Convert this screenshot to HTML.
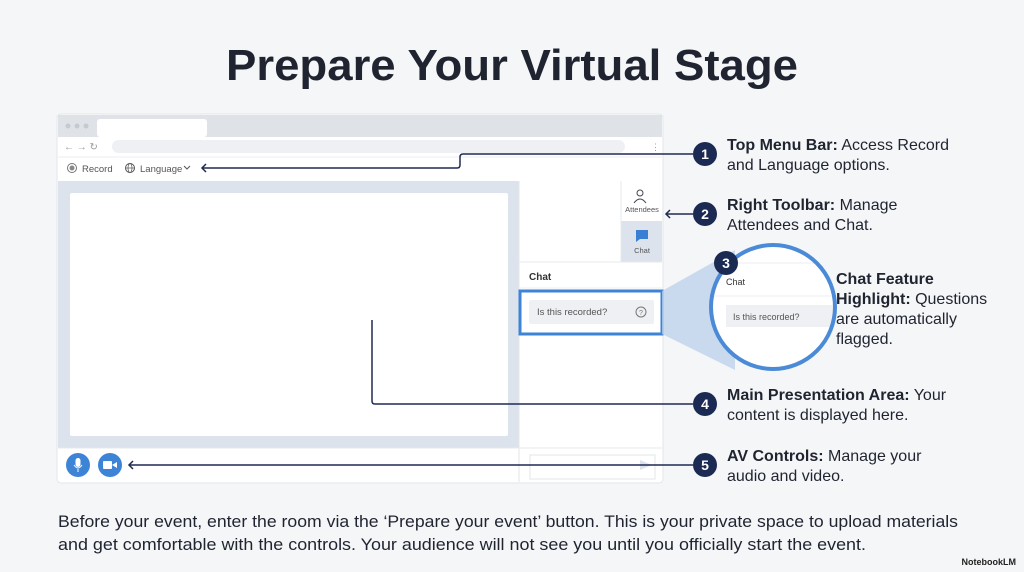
<!DOCTYPE html>
<html><head><meta charset="utf-8"><style>
html,body{margin:0;padding:0;background:#f5f6f8;}
svg{display:block;font-family:"Liberation Sans",sans-serif;}
</style></head><body>
<svg width="1024" height="572" viewBox="0 0 1024 572" xmlns="http://www.w3.org/2000/svg">
<defs><clipPath id="mag"><circle cx="773" cy="307" r="61"/></clipPath></defs>
<rect width="1024" height="572" fill="#f5f6f8"/>
<text x="512" y="80" text-anchor="middle" font-size="44" font-weight="bold" fill="#1f2430" textLength="572" lengthAdjust="spacingAndGlyphs">Prepare Your Virtual Stage</text>

<rect x="57" y="114" width="606" height="369" rx="4" fill="#ffffff" stroke="#e3e6ea"/>
<rect x="58" y="115" width="604" height="22" fill="#dfe3e8"/>
<rect x="97" y="119" width="110" height="18" rx="3" fill="#ffffff"/>
<circle cx="68" cy="126" r="2.5" fill="#c5cad2"/><circle cx="77" cy="126" r="2.5" fill="#c5cad2"/><circle cx="86" cy="126" r="2.5" fill="#c5cad2"/>
<rect x="112" y="140" width="513" height="13" rx="6.5" fill="#eef0f3"/>
<text x="64" y="150" font-size="10" fill="#999">← → ↻</text>
<text x="651" y="150" font-size="9" fill="#999">⋮</text>
<line x1="58" y1="157" x2="662" y2="157" stroke="#eceef1"/>
<circle cx="72" cy="168" r="4.5" fill="none" stroke="#777" stroke-width="1"/><circle cx="72" cy="168" r="2.5" fill="#888"/>
<text x="82" y="172" font-size="9.5" fill="#555">Record</text>
<circle cx="130" cy="168" r="4.5" fill="none" stroke="#555"/><line x1="125.5" y1="168" x2="134.5" y2="168" stroke="#555" stroke-width="0.7"/><ellipse cx="130" cy="168" rx="2" ry="4.5" fill="none" stroke="#555" stroke-width="0.7"/>
<text x="140" y="172" font-size="9.5" fill="#555">Language</text>
<path d="M184 166 l3 3 l3 -3" fill="none" stroke="#555"/>

<rect x="58" y="181" width="461" height="267" fill="#dde3ec"/>
<rect x="70" y="193" width="438" height="243" rx="2" fill="#ffffff"/>
<line x1="519" y1="181" x2="519" y2="482" stroke="#e3e6ea"/>
<rect x="621" y="221" width="41" height="41" fill="#dde3ec"/>
<line x1="621" y1="181" x2="621" y2="262" stroke="#e6e9ed"/>
<line x1="519" y1="262" x2="662" y2="262" stroke="#e6e9ed"/>
<circle cx="640" cy="193" r="3" fill="none" stroke="#445"/><path d="M634 203 q6 -8 12 0" fill="none" stroke="#445"/>
<text x="642" y="212" font-size="7.5" fill="#555" text-anchor="middle">Attendees</text>
<path d="M636 230 h12 v9 h-8 l-4 3 z" fill="#3b7fd4"/>
<text x="642" y="253" font-size="7.5" fill="#555" text-anchor="middle">Chat</text>
<text x="529" y="280" font-size="10" font-weight="bold" fill="#333">Chat</text>
<line x1="519" y1="288" x2="662" y2="288" stroke="#eceef1"/>
<rect x="529" y="300" width="125" height="24" rx="2" fill="#eef0f3"/>
<text x="537" y="315" font-size="9.5" fill="#555">Is this recorded?</text>
<circle cx="641" cy="312" r="5" fill="none" stroke="#777"/><text x="641" y="315" font-size="7" fill="#777" text-anchor="middle">?</text>
<rect x="520" y="291" width="142" height="43" fill="none" stroke="#3d83d6" stroke-width="3"/>
<line x1="58" y1="448" x2="662" y2="448" stroke="#e6e9ed"/>
<rect x="530" y="455" width="125" height="24" fill="#fff" stroke="#e3e6ea"/>
<path d="M640 460 l12 5 l-12 5 z" fill="#dde3ec"/>
<circle cx="78" cy="465" r="12" fill="#3d83d6"/><rect x="75.5" y="458" width="5" height="9" rx="2.5" fill="#fff"/><path d="M74 465 q4 6 8 0 M78 469 v3" fill="none" stroke="#fff"/>
<circle cx="110" cy="465" r="12" fill="#3d83d6"/><rect x="103" y="461" width="9" height="8" rx="1" fill="#fff"/><path d="M112 465 l5 -3 v6 z" fill="#fff"/>

<path d="M662 291 L735 250 L735 370 L662 334 Z" fill="#b9d0ec" opacity="0.75"/>
<circle cx="773" cy="307" r="62" fill="#ffffff"/>
<g clip-path="url(#mag)">
<line x1="700" y1="263" x2="840" y2="263" stroke="#eceef1"/>
<text x="726" y="285" font-size="9" fill="#333">Chat</text>
<line x1="700" y1="296" x2="840" y2="296" stroke="#eceef1"/>
<rect x="726" y="305" width="120" height="22" fill="#eef0f3"/>
<text x="733" y="320" font-size="9" fill="#555">Is this recorded?</text>
</g>
<circle cx="773" cy="307" r="62" fill="none" stroke="#4b8ad6" stroke-width="4"/>

<g stroke="#1e2a52" stroke-width="1.5" fill="none">
<path d="M693 154 H463 Q460 154 460 157 V165 Q460 168 457 168 H202"/>
<path d="M206 164 l-4 4 l4 4"/>
<path d="M693 214 H666"/><path d="M670 210 l-4 4 l4 4"/>
<path d="M693 404 H375 Q372 404 372 401 V320"/>
<path d="M693 465 H129"/><path d="M133 461 l-4 4 l4 4"/>
</g>
<g font-size="14" font-weight="bold" fill="#fff" text-anchor="middle">
<circle cx="705" cy="154" r="12" fill="#1b2a52"/><text x="705" y="159">1</text>
<circle cx="705" cy="214" r="12" fill="#1b2a52"/><text x="705" y="219">2</text>
<circle cx="726" cy="263" r="12" fill="#1b2a52"/><text x="726" y="268">3</text>
<circle cx="705" cy="404" r="12" fill="#1b2a52"/><text x="705" y="409">4</text>
<circle cx="705" cy="465" r="12" fill="#1b2a52"/><text x="705" y="470">5</text>
</g>
<g font-size="16" fill="#1f2430">
<text x="727" y="150"><tspan font-weight="bold">Top Menu Bar:</tspan> Access Record</text>
<text x="727" y="170">and Language options.</text>
<text x="727" y="210"><tspan font-weight="bold">Right Toolbar:</tspan> Manage</text>
<text x="727" y="230">Attendees and Chat.</text>
<text x="836" y="284" font-weight="bold">Chat Feature</text>
<text x="836" y="304"><tspan font-weight="bold">Highlight:</tspan> Questions</text>
<text x="836" y="324">are automatically</text>
<text x="836" y="344">flagged.</text>
<text x="727" y="400"><tspan font-weight="bold">Main Presentation Area:</tspan> Your</text>
<text x="727" y="420">content is displayed here.</text>
<text x="727" y="461"><tspan font-weight="bold">AV Controls:</tspan> Manage your</text>
<text x="727" y="481">audio and video.</text>
</g>
<text x="58" y="527" font-size="17" fill="#1f2430" textLength="900" lengthAdjust="spacingAndGlyphs">Before your event, enter the room via the ‘Prepare your event’ button. This is your private space to upload materials</text>
<text x="58" y="550" font-size="17" fill="#1f2430" textLength="808" lengthAdjust="spacingAndGlyphs">and get comfortable with the controls. Your audience will not see you until you officially start the event.</text>
<text x="1016" y="565" font-size="9" font-weight="bold" fill="#222" text-anchor="end">NotebookLM</text>
</svg>
</body></html>
